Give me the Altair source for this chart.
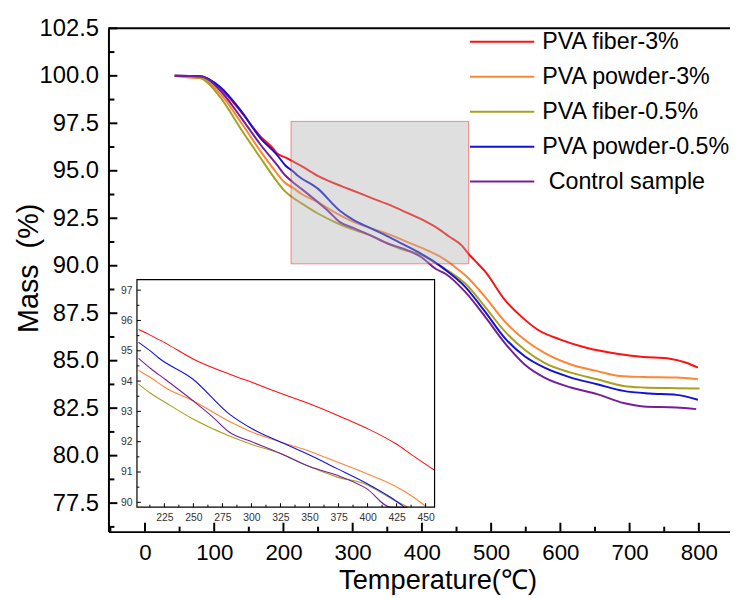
import altair as alt
import pandas as pd

FONT = "Liberation Sans"

SERIES = ["PVA fiber-3%", "PVA powder-3%", "PVA fiber-0.5%", "PVA powder-0.5%", "\u200b Control sample"]
COLORS = ["#ff1010", "#ff8533", "#a8a01e", "#1212d8", "#74209c"]

RED_T = [43, 79.5, 108.6, 138, 167, 184.6, 190.4, 202.8, 213.7, 225.6, 249.7, 285.3, 300.9, 325, 350.5,
         373.3, 398.9, 424.4, 438.7, 457.7, 467.3, 476.3, 491.2, 519.8, 543.7, 567.4, 600.9, 638.9, 681.8,
         719.9, 758.1, 781.9, 798.6]
RED_M = [100, 99.98, 99.35, 98.14, 96.8, 96.19, 95.93, 95.7, 95.5, 95.26, 94.73, 94.17, 93.95, 93.6, 93.24,
         92.88, 92.45, 91.93, 91.55, 91.06, 90.63, 90.28, 89.7, 88.2, 87.32, 86.63, 86.1, 85.67, 85.37,
         85.2, 85.1, 84.89, 84.63]

ORANGE_T = [43, 60, 79.5, 108.6, 138, 167, 184.6, 202.8, 213.7, 225.6, 249.7, 279.5, 300.9, 325, 350.5,
            373.3, 398.9, 424.4, 438.7, 450, 462.6, 491.2, 519.8, 548.4, 577, 615.2, 653.2, 686.6, 719.9,
            767.6, 798.6]
ORANGE_M = [100, 99.92, 99.88, 99.06, 97.58, 96.02, 95.15, 94.35, 94.1, 93.79, 93.35, 92.7, 92.31, 91.99,
            91.68, 91.34, 90.95, 90.52, 90.19, 89.87, 89.5, 88.36, 87.06, 86.1, 85.41, 84.8, 84.45, 84.19,
            84.14, 84.11, 84.02]

OLIVE_T = [43, 79.5, 108.6, 138, 167, 190.4, 202.8, 213.7, 225.6, 249.7, 279.5, 300.9, 325, 350.5, 373.3,
           398.9, 418.7, 435, 462.6, 491.2, 519.8, 548.4, 577, 615.2, 653.2, 691.3, 719.9, 767.6, 801]
OLIVE_M = [100, 99.88, 98.88, 97.23, 95.67, 94.45, 93.9, 93.58, 93.3, 92.75, 92.21, 91.9, 91.61, 91.17,
           90.84, 90.59, 90.16, 89.8, 89.06, 87.84, 86.54, 85.58, 84.89, 84.37, 84.02, 83.67, 83.59, 83.55,
           83.53]

BLUE_T = [43, 79.5, 108.6, 138, 167, 190.4, 202.8, 213.7, 219.9, 249.7, 281, 300.9, 325, 350.5, 373.3,
          398.9, 418.7, 431.5, 462.6, 491.2, 519.8, 548.4, 577, 615.2, 653.2, 691.3, 729.5, 767.6, 798.6]
BLUE_M = [100, 99.98, 99.41, 98.19, 96.71, 95.85, 95.28, 94.97, 94.77, 94.06, 92.91, 92.42, 91.99, 91.55,
          91.12, 90.63, 90.19, 89.85, 88.89, 87.58, 86.19, 85.23, 84.63, 84.11, 83.76, 83.41, 83.27, 83.2,
          82.94]

PURPLE_T = [43, 79.5, 108.6, 138, 167, 190.4, 202.8, 213.7, 225.6, 249.7, 265.3, 281, 300.9, 325, 350.5,
            373.3, 398.9, 420.2, 434, 462.6, 491.2, 519.8, 548.4, 577, 615.2, 653.2, 691.3, 719.9, 767.6,
            796.2]
PURPLE_M = [100, 99.98, 99.23, 97.84, 96.37, 95.32, 94.75, 94.4, 94.06, 93.35, 92.86, 92.31, 91.99, 91.61,
            91.17, 90.9, 90.46, 89.83, 89.58, 88.62, 87.32, 85.93, 84.8, 84.11, 83.59, 83.24, 82.77, 82.59,
            82.54, 82.45]

X_MAJOR = [0, 100, 200, 300, 400, 500, 600, 700, 800]
X_MINOR = [-50, 50, 150, 250, 350, 450, 550, 650, 750]
Y_MAJOR = [77.5, 80.0, 82.5, 85.0, 87.5, 90.0, 92.5, 95.0, 97.5, 100.0, 102.5]
Y_MINOR = [76.25, 78.75, 81.25, 83.75, 86.25, 88.75, 91.25, 93.75, 96.25, 98.75, 101.25]

INSET_X_MAJOR = [225, 250, 275, 300, 325, 350, 375, 400, 425, 450]
INSET_X_MINOR = [212.5, 237.5, 262.5, 287.5, 312.5, 337.5, 362.5, 387.5, 412.5, 437.5]
INSET_Y_MAJOR = [90, 91, 92, 93, 94, 95, 96, 97]
INSET_Y_MINOR = [90.5, 91.5, 92.5, 93.5, 94.5, 95.5, 96.5]

MAIN_DOMAIN_T = [-52.75, 845.0]
MAIN_DOMAIN_M = [76.0, 102.5]
INSET_DOMAIN_T = [201.4, 457.7]
INSET_DOMAIN_M = [89.84, 97.35]
HIGHLIGHT_T = [211.0, 467.5]
HIGHLIGHT_M = [90.1, 97.6]

# layout (pixels, relative to the plot area)
W, H = 628, 508.5
IL, IR, IT, IB = 28.8, 329.5, 253.8, 483.8

rows = []
for name, ts, ms in zip(SERIES, [RED_T, ORANGE_T, OLIVE_T, BLUE_T, PURPLE_T],
                        [RED_M, ORANGE_M, OLIVE_M, BLUE_M, PURPLE_M]):
    for t, m in zip(ts, ms):
        rows.append({"series": name, "T": t, "M": m})
df = pd.DataFrame(rows)

# legend symbol: a horizontal line drawn by a custom path (length = 2*sqrt(size))
color = alt.Color("series:N", scale=alt.Scale(domain=SERIES, range=COLORS), sort=SERIES,
                  legend=alt.Legend(title=None, orient="none", legendX=380.25, legendY=-3.85,
                                    symbolType="M-2,0H2", symbolSize=1056, symbolStrokeWidth=2,
                                    labelFont=FONT, labelFontSize=23.5, labelColor="black",
                                    labelOffset=23, rowPadding=6.3, padding=0, labelLimit=400))

xs = alt.Scale(domain=MAIN_DOMAIN_T, nice=False, zero=False)
ys = alt.Scale(domain=MAIN_DOMAIN_M, nice=False, zero=False)
x_axis = alt.Axis(orient="bottom", values=X_MAJOR, format="d", title="Temperature(\u2103)", grid=False,
                  ticks=False, tickSize=0, domain=True, domainColor="black", domainWidth=2,
                  labelFont=FONT, labelFontSize=22.5, labelColor="black", labelPadding=10,
                  labelFlush=False, labelOverlap=False,
                  titleFont=FONT, titleFontSize=27.5, titleFontWeight="normal", titleColor="black",
                  titleX=332.5, titleY=57, titleBaseline="alphabetic")
y_axis = alt.Axis(orient="left", values=Y_MAJOR, format=".1f", title="Mass\u00a0 (%)", grid=False,
                  ticks=False, tickSize=0, domain=True, domainColor="black", domainWidth=2,
                  labelFont=FONT, labelFontSize=24, labelColor="black", labelPadding=10,
                  labelFlush=False, labelOverlap=False,
                  titleFont=FONT, titleFontSize=29, titleFontWeight="normal", titleColor="black",
                  titleX=-71.5, titleY=242, titleAngle=270, titleBaseline="alphabetic")

MX = alt.X("T:Q", scale=xs, axis=x_axis)
MY = alt.Y("M:Q", scale=ys, axis=y_axis)

main_curves = alt.Chart(df).mark_line(strokeWidth=2, interpolate="monotone").encode(x=MX, y=MY, color=color)

hl = pd.DataFrame({"t0": [HIGHLIGHT_T[0]], "t1": [HIGHLIGHT_T[1]], "m0": [HIGHLIGHT_M[0]], "m1": [HIGHLIGHT_M[1]]})
highlight = alt.Chart(hl).mark_rect(fill="#b0b0b0", fillOpacity=0.4, stroke="#ff0000", strokeOpacity=0.45,
                                    strokeWidth=1).encode(
    x=alt.X("t0:Q", scale=xs, axis=x_axis), x2="t1",
    y=alt.Y("m0:Q", scale=ys, axis=y_axis), y2="m1")


def xticks(vals, scale, axis, base, length, width):
    return alt.Chart(pd.DataFrame({"v": vals})).mark_rule(color="black", strokeWidth=width).encode(
        x=alt.X("v:Q", scale=scale, axis=axis), y=alt.value(base), y2=alt.value(base - length))


def yticks(vals, scale, axis, base, length, width):
    return alt.Chart(pd.DataFrame({"v": vals})).mark_rule(color="black", strokeWidth=width).encode(
        y=alt.Y("v:Q", scale=scale, axis=axis), x=alt.value(base), x2=alt.value(base + length))


top_line = alt.Chart(pd.DataFrame({"k": [0]})).mark_rule(color="black", strokeWidth=2).encode(
    x=alt.value(0), x2=alt.value(W), y=alt.value(0))

main = alt.layer(
    main_curves, highlight,
    xticks(X_MAJOR, xs, x_axis, H, 9, 2), xticks(X_MINOR, xs, x_axis, H, 5, 2),
    yticks(Y_MAJOR, ys, y_axis, 0, 9, 2), yticks(Y_MINOR, ys, y_axis, 0, 6, 2),
    top_line,
)

# ---- inset ----
ixs = alt.Scale(domain=INSET_DOMAIN_T, range=[IL, IR], nice=False, zero=False, clamp=True)
iys = alt.Scale(domain=INSET_DOMAIN_M, range=[IB, IT], nice=False, zero=False, clamp=True)
ix_axis = alt.Axis(orient="bottom", offset=IB - H, values=INSET_X_MAJOR, format="d", title=None, grid=False,
                   ticks=False, tickSize=0, domain=False, labelFont=FONT, labelFontSize=10.5,
                   labelColor="#333333", labelPadding=5.5, labelFlush=False, labelOverlap=False)
iy_axis = alt.Axis(orient="left", offset=-IL, values=INSET_Y_MAJOR, format="d", title=None, grid=False,
                   ticks=False, tickSize=0, domain=False, labelFont=FONT, labelFontSize=10.5,
                   labelColor="#333333", labelPadding=5, labelFlush=False, labelOverlap=False)

ibox = pd.DataFrame({"t0": [INSET_DOMAIN_T[0]], "t1": [INSET_DOMAIN_T[1]],
                     "m0": [INSET_DOMAIN_M[0]], "m1": [INSET_DOMAIN_M[1]]})
IX_BOX = alt.X("t0:Q", scale=ixs, axis=ix_axis)
IY_BOX = alt.Y("m0:Q", scale=iys, axis=iy_axis)

inset_bg = alt.Chart(ibox).mark_rect(fill="white").encode(x=IX_BOX, x2="t1", y=IY_BOX, y2="m1")
inset_curves = alt.Chart(df).transform_filter(
    f"datum.T >= {INSET_DOMAIN_T[0]} && datum.T <= {INSET_DOMAIN_T[1]}"
).mark_line(strokeWidth=1.1, interpolate="monotone").encode(
    x=alt.X("T:Q", scale=ixs, axis=ix_axis), y=alt.Y("M:Q", scale=iys, axis=iy_axis), color=color)
inset_frame = alt.Chart(ibox).mark_rect(fillOpacity=0, stroke="black", strokeWidth=1.2).encode(
    x=IX_BOX, x2="t1", y=IY_BOX, y2="m1")

inset = alt.layer(
    inset_bg, inset_curves,
    xticks(INSET_X_MAJOR, ixs, ix_axis, IB, 4, 1), xticks(INSET_X_MINOR, ixs, ix_axis, IB, 2.5, 1),
    yticks(INSET_Y_MAJOR, iys, iy_axis, IL, 4, 1), yticks(INSET_Y_MINOR, iys, iy_axis, IL, 2.5, 1),
    inset_frame,
)

chart = alt.layer(main, inset).resolve_scale(x="independent", y="independent").properties(
    width=W, height=H,
    autosize=alt.AutoSizeParams(type="none"),
    padding={"left": 101.5, "top": 17.5, "right": 0, "bottom": 63},
).configure_view(stroke="transparent")

chart.save("out.html", embed_options={"renderer": "svg", "actions": False})
